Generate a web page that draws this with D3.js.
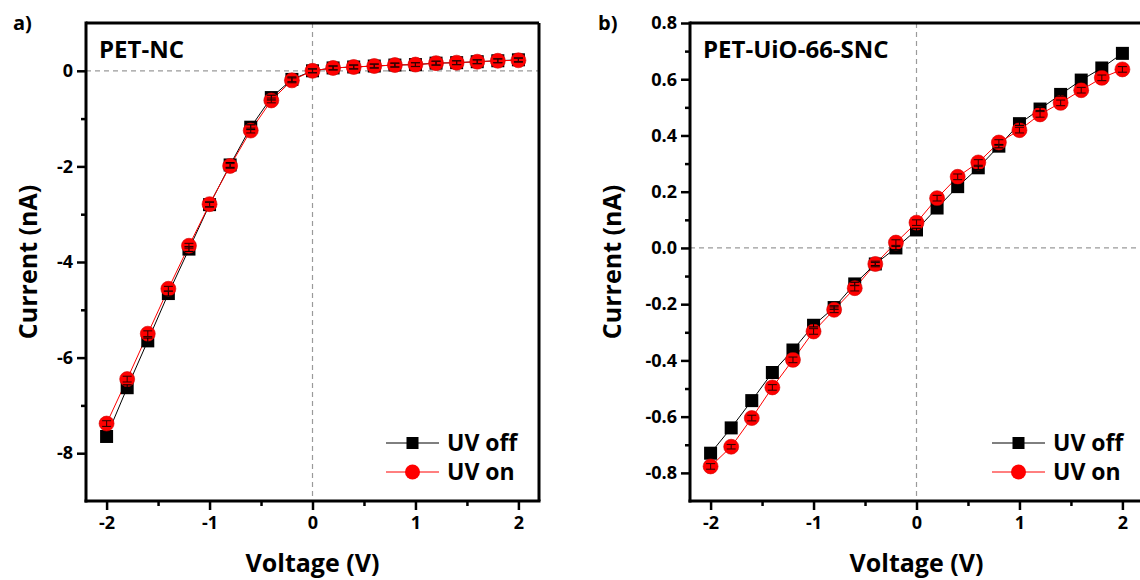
<!DOCTYPE html>
<html>
<head>
<meta charset="utf-8">
<script src="https://cdn.jsdelivr.net/npm/d3@7"></script>
<style>
  html, body { margin: 0; padding: 0; background: #fff; }
  svg { display: block; font-family: "Open Sans", "DejaVu Sans", sans-serif; font-weight: bold; }
</style>
</head>
<body>
<svg id="chart" width="1140" height="580"></svg>
<script>
// ---------- data ----------
const voltage = [-2.0, -1.8, -1.6, -1.4, -1.2, -1.0, -0.8, -0.6, -0.4, -0.2, 0.0, 0.2, 0.4, 0.6, 0.8, 1.0, 1.2, 1.4, 1.6, 1.8, 2.0];

// Panel a: PET-NC (nA)
const ncOff = [-7.65, -6.63, -5.65, -4.66, -3.73, -2.80, -1.97, -1.18, -0.56, -0.18, 0.00, 0.06, 0.08, 0.10, 0.12, 0.13, 0.16, 0.17, 0.19, 0.21, 0.23];
const ncOn  = [-7.38, -6.45, -5.50, -4.56, -3.66, -2.79, -1.99, -1.25, -0.62, -0.20, 0.00, 0.06, 0.08, 0.10, 0.12, 0.13, 0.16, 0.17, 0.19, 0.21, 0.22];
const ncErrOff = [0.06, 0.06, 0.06, 0.05, 0.05, 0.05, 0.05, 0.05, 0.05, 0.05, 0.04, 0.04, 0.04, 0.04, 0.04, 0.04, 0.04, 0.04, 0.04, 0.04, 0.04];
const ncErrOn  = [0.06, 0.06, 0.06, 0.05, 0.05, 0.05, 0.05, 0.05, 0.05, 0.05, 0.04, 0.04, 0.04, 0.04, 0.04, 0.04, 0.04, 0.04, 0.04, 0.04, 0.04];

// Panel b: PET-UiO-66-SNC (nA)
const sncOff = [-0.730, -0.640, -0.543, -0.443, -0.363, -0.275, -0.212, -0.128, -0.057, 0.000, 0.064, 0.142, 0.218, 0.285, 0.362, 0.442, 0.494, 0.546, 0.597, 0.640, 0.692];
const sncOn  = [-0.777, -0.707, -0.605, -0.496, -0.398, -0.297, -0.220, -0.143, -0.057, 0.019, 0.090, 0.177, 0.253, 0.304, 0.375, 0.419, 0.475, 0.516, 0.561, 0.605, 0.635];
const sncErrOff = [0.006, 0.006, 0.006, 0.006, 0.006, 0.006, 0.006, 0.006, 0.006, 0.006, 0.006, 0.006, 0.006, 0.006, 0.006, 0.006, 0.006, 0.006, 0.006, 0.006, 0.006];
const sncErrOn  = [0.010, 0.008, 0.010, 0.010, 0.010, 0.010, 0.010, 0.010, 0.010, 0.010, 0.010, 0.010, 0.010, 0.010, 0.010, 0.010, 0.010, 0.010, 0.010, 0.010, 0.010];

const xMajor = [-2, -1, 0, 1, 2];
const xMinor = [-1.5, -0.5, 0.5, 1.5];
const ncYMajor = [0, -2, -4, -6, -8];
const ncYMinor = [-1, -3, -5, -7];
const sncYMajor = [0.8, 0.6, 0.4, 0.2, 0.0, -0.2, -0.4, -0.6, -0.8];
const sncYMinor = [0.7, 0.5, 0.3, 0.1, -0.1, -0.3, -0.5, -0.7];

const seriesNames = ["UV off", "UV on"];
const xTitle = "Voltage (V)";
const yTitle = "Current (nA)";

// ---------- drawing ----------
const svg = d3.select("#chart");

function fmtMinus(f) { return d => f(d).replace("\u2212", "-"); }

function drawPanel(cfg) {
  const x = d3.scaleLinear().domain(cfg.xDomain).range([cfg.left, cfg.right]);
  const y = d3.scaleLinear().domain(cfg.yDomain).range([cfg.bottom, cfg.top]);
  const g = svg.append("g");

  // zero dashed lines
  g.append("line").attr("x1", x(0)).attr("x2", x(0)).attr("y1", cfg.top).attr("y2", cfg.bottom)
    .attr("stroke", "#9a9a9a").attr("stroke-width", 1.2).attr("stroke-dasharray", "5,4");
  g.append("line").attr("x1", cfg.left).attr("x2", cfg.right).attr("y1", y(0)).attr("y2", y(0))
    .attr("stroke", "#9a9a9a").attr("stroke-width", 1.2).attr("stroke-dasharray", "5,4");

  // frame top/right
  g.append("line").attr("x1", cfg.left).attr("x2", cfg.right).attr("y1", cfg.top).attr("y2", cfg.top)
    .attr("stroke", "#000").attr("stroke-width", 3);
  g.append("line").attr("x1", cfg.right).attr("x2", cfg.right).attr("y1", cfg.top).attr("y2", cfg.bottom)
    .attr("stroke", "#000").attr("stroke-width", 3);

  // x axis
  const xAxis = d3.axisBottom(x).tickValues(cfg.xMajor).tickSize(9).tickPadding(6)
    .tickFormat(fmtMinus(d3.format("d"))).tickSizeOuter(0);
  const gx = g.append("g").attr("transform", `translate(0,${cfg.bottom})`).call(xAxis);
  gx.select(".domain").attr("stroke-width", 3).attr("d", `M${cfg.left - 1.5},0H${cfg.right + 1.5}`);
  gx.selectAll(".tick line").attr("stroke-width", 2.5);
  gx.selectAll(".tick text").attr("font-size", 18).attr("font-weight", "bold").attr("fill", "#000")
    .attr("font-family", "'Open Sans', sans-serif");
  const gxm = g.append("g").attr("transform", `translate(0,${cfg.bottom})`)
    .call(d3.axisBottom(x).tickValues(cfg.xMinor).tickSize(5).tickFormat("").tickSizeOuter(0));
  gxm.select(".domain").remove();
  gxm.selectAll(".tick line").attr("stroke-width", 2.5);

  // y axis
  const yAxis = d3.axisLeft(y).tickValues(cfg.yMajor).tickSize(9).tickPadding(4)
    .tickFormat(fmtMinus(d3.format(cfg.yFormat))).tickSizeOuter(0);
  const gy = g.append("g").attr("transform", `translate(${cfg.left},0)`).call(yAxis);
  gy.select(".domain").attr("stroke-width", 3).attr("d", `M0,${cfg.top - 1.5}V${cfg.bottom + 1.5}`);
  gy.selectAll(".tick line").attr("stroke-width", 2.5);
  gy.selectAll(".tick text").attr("font-size", 18).attr("font-weight", "bold").attr("fill", "#000")
    .attr("font-family", "'Open Sans', sans-serif");
  const gym = g.append("g").attr("transform", `translate(${cfg.left},0)`)
    .call(d3.axisLeft(y).tickValues(cfg.yMinor).tickSize(5).tickFormat("").tickSizeOuter(0));
  gym.select(".domain").remove();
  gym.selectAll(".tick line").attr("stroke-width", 2.5);

  // axis titles
  g.append("text").attr("x", x(0)).attr("y", 572).attr("text-anchor", "middle")
    .attr("font-size", 25).attr("font-weight", "bold").text(xTitle);
  g.append("text").attr("transform", `translate(${cfg.yTitleX},${(cfg.top + cfg.bottom) / 2}) rotate(-90)`)
    .attr("text-anchor", "middle").attr("font-size", 25).attr("font-weight", "bold").text(yTitle);

  // panel label + sample title
  g.append("text").attr("x", cfg.labelX).attr("y", 30).attr("font-size", 20).attr("font-weight", "bold").text(cfg.label);
  g.append("text").attr("x", cfg.left + 13).attr("y", 58).attr("font-size", 24).attr("font-weight", "bold").text(cfg.title);

  const pts = (vals, err) => voltage.map((v, i) => ({ v, c: vals[i], e: err[i] }));
  const off = pts(cfg.off, cfg.errOff);
  const on = pts(cfg.on, cfg.errOn);
  const line = d3.line().x(d => x(d.v)).y(d => y(d.c));

  g.append("path").datum(off).attr("d", line).attr("fill", "none").attr("stroke", "#000").attr("stroke-width", 1);
  g.append("path").datum(on).attr("d", line).attr("fill", "none").attr("stroke", "#ff0000").attr("stroke-width", 1);

  const sq = 13;
  g.selectAll(".sq").data(off).enter().append("rect")
    .attr("x", d => x(d.v) - sq / 2).attr("y", d => y(d.c) - sq / 2)
    .attr("width", sq).attr("height", sq).attr("fill", "#000");
  g.selectAll(".ci").data(on).enter().append("circle")
    .attr("cx", d => x(d.v)).attr("cy", d => y(d.c)).attr("r", 7.5)
    .attr("fill", "#ff0000").attr("stroke", "#d00000").attr("stroke-width", 0.6);

  // error bars
  function errBars(data, color) {
    const eb = g.append("g").attr("stroke", color).attr("stroke-width", 1.1);
    data.forEach(d => {
      const cx = x(d.v), y1 = y(d.c - d.e), y2 = y(d.c + d.e);
      eb.append("line").attr("x1", cx).attr("x2", cx).attr("y1", y1).attr("y2", y2);
      eb.append("line").attr("x1", cx - 4.5).attr("x2", cx + 4.5).attr("y1", y1).attr("y2", y1);
      eb.append("line").attr("x1", cx - 4.5).attr("x2", cx + 4.5).attr("y1", y2).attr("y2", y2);
    });
  }
  errBars(off, "#000");
  errBars(on, "#3a0000");

  // legend
  const lx0 = cfg.legendX, lx1 = cfg.legendX + 53, lmid = (lx0 + lx1) / 2;
  const ly = [443, 472];
  g.append("line").attr("x1", lx0).attr("x2", lx1).attr("y1", ly[0]).attr("y2", ly[0]).attr("stroke", "#000").attr("stroke-width", 1);
  g.append("rect").attr("x", lmid - 6).attr("y", ly[0] - 6).attr("width", 12).attr("height", 12).attr("fill", "#000");
  g.append("text").attr("x", lx1 + 8).attr("y", ly[0] + 8).attr("font-size", 23).attr("font-weight", "bold").text(seriesNames[0]);
  g.append("line").attr("x1", lx0).attr("x2", lx1).attr("y1", ly[1]).attr("y2", ly[1]).attr("stroke", "#ff0000").attr("stroke-width", 1);
  g.append("circle").attr("cx", lmid).attr("cy", ly[1]).attr("r", 7.5).attr("fill", "#ff0000");
  g.append("text").attr("x", lx1 + 8).attr("y", ly[1] + 8).attr("font-size", 23).attr("font-weight", "bold").text(seriesNames[1]);
}

drawPanel({
  left: 86, right: 539, top: 23, bottom: 501,
  xDomain: [-2.2, 2.2], yDomain: [-9, 1],
  xMajor, xMinor, yMajor: ncYMajor, yMinor: ncYMinor, yFormat: "d",
  off: ncOff, on: ncOn, errOff: ncErrOff, errOn: ncErrOn,
  label: "a)", labelX: 13, title: "PET-NC", yTitleX: 37, legendX: 386
});

drawPanel({
  left: 690, right: 1143, top: 23, bottom: 501,
  xDomain: [-2.2, 2.2], yDomain: [-0.9, 0.8],
  xMajor, xMinor, yMajor: sncYMajor, yMinor: sncYMinor, yFormat: ".1f",
  off: sncOff, on: sncOn, errOff: sncErrOff, errOn: sncErrOn,
  label: "b)", labelX: 598, title: "PET-UiO-66-SNC", yTitleX: 621, legendX: 992
});
</script>
</body>
</html>
